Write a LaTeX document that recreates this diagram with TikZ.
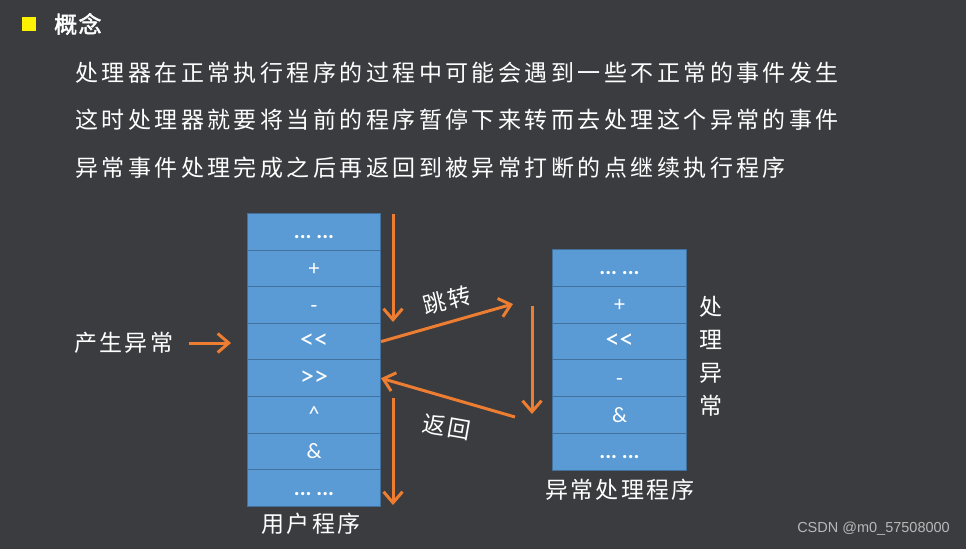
\documentclass[tikz,border=0pt]{standalone}
\usepackage{fontspec}
\newfontfamily\cjk[LetterSpace=15]{Noto Sans CJK SC}
\newfontfamily\cjklbl[LetterSpace=10]{Noto Sans CJK SC}
\newfontfamily\cjkplain{Noto Sans CJK SC}
\newfontfamily\cjkb[FakeBold=2,LetterSpace=6]{Noto Sans CJK SC}
\newfontfamily\cellfont[Ligatures=ResetAll]{Carlito}
\newfontfamily\wmfont{Liberation Sans}
\usetikzlibrary{arrows.meta}
\definecolor{bg}{HTML}{3B3C40}
\definecolor{cellblue}{HTML}{5B9BD5}
\definecolor{cellline}{HTML}{41719C}
\definecolor{arr}{HTML}{ED7D31}
\definecolor{wm}{HTML}{B8B8B8}
\tikzset{
  lcell/.style={draw=cellline,line width=1pt,fill=cellblue,minimum width=133pt,minimum height=36.6pt,anchor=north west,inner sep=0pt,text height=16pt,text depth=2pt,text=white,font=\cellfont\fontsize{22}{22}\selectfont},
  rcell/.style={lcell,minimum width=134pt,minimum height=36.8pt},
  body/.style={text=white,anchor=west,inner sep=0pt,font=\cjk\fontsize{23}{23}\selectfont},
  lbl/.style={text=white,inner sep=0pt,font=\cjklbl\fontsize{23}{23}\selectfont},
  oarrow/.style={draw=arr,line width=3pt,-{Straight Barb[length=11pt,width=19pt,line width=3pt]}},
}
\newcommand{\dd}{\textbf{...\ ...}}
\newcommand{\shl}{{\fontsize{28}{28}\selectfont <\kern0pt<}}
\newcommand{\shr}{{\fontsize{28}{28}\selectfont >\kern0pt>}}
\begin{document}
\begin{tikzpicture}[x=1pt,y=-1pt]
\fill[bg] (0,0) rectangle (966,549);
\useasboundingbox (0,0) rectangle (966,549);
% title
\node[fill=yellow,minimum size=14pt,inner sep=0pt] (sq) at (29,24) {};
\node[text=white,anchor=west,inner sep=0pt,font=\cjkb\fontsize{23}{23}\selectfont] (title) at (54,24) {概念};
\node[body] (t1) at (75,73) {处理器在正常执行程序的过程中可能会遇到一些不正常的事件发生};
\node[body] (t2) at (75,120) {这时处理器就要将当前的程序暂停下来转而去处理这个异常的事件};
\node[body] (t3) at (75,168) {异常事件处理完成之后再返回到被异常打断的点继续执行程序};
% left stack
\node[lcell] (l1) at (247,213.0) {\dd};
\node[lcell] (l2) at (247,249.6) {+};
\node[lcell] (l3) at (247,286.2) {-};
\node[lcell] (l4) at (247,322.8) {\shl};
\node[lcell] (l5) at (247,359.4) {\shr};
\node[lcell] (l6) at (247,396.0) {\textasciicircum};
\node[lcell] (l7) at (247,432.6) {\&};
\node[lcell] (l8) at (247,469.2) {\dd};
% right stack
\node[rcell] (r1) at (552,249.0) {\dd};
\node[rcell] (r2) at (552,285.8) {+};
\node[rcell] (r3) at (552,322.6) {\shl};
\node[rcell] (r4) at (552,359.4) {-};
\node[rcell] (r5) at (552,396.2) {\&};
\node[rcell] (r6) at (552,433.0) {\dd};
% labels
\node[lbl] (user) at (311,524) {用户程序};
\node[lbl] (handler) at (620,490) {异常处理程序};
\node[lbl,align=center,font=\cjkplain\fontsize{23}{33}\selectfont] (vert) at (711,356) {处\\理\\异\\常};
\node[lbl,anchor=west] (gen) at (74,343) {产生异常};
\node[lbl,rotate=14] (jump) at (447,300) {跳转};
\node[lbl,rotate=-10] (ret) at (447,427) {返回};
% arrows
\coordinate (gs) at (189,343);
\coordinate (ge) at (231,343);
\coordinate (v1s) at (393,214);
\coordinate (v1e) at (393,322);
\coordinate (v2s) at (393,398);
\coordinate (v2e) at (393,505);
\coordinate (jt) at (513,304);
\coordinate (rs) at (515,417);
\coordinate (v3s) at (532,306);
\coordinate (v3e) at (532,414);
\draw[oarrow] (gs) -- (ge);
\draw[oarrow] (v1s) -- (v1e);
\draw[oarrow] (v2s) -- (v2e);
\draw[oarrow] (l4.east) -- (jt);
\draw[oarrow] (rs) -- (l5.east);
\draw[oarrow] (v3s) -- (v3e);
% watermark
\node[text=wm,anchor=east,inner sep=0pt,font=\wmfont\fontsize{14.5}{14.5}\selectfont] (wmk) at (950,529) {CSDN @m0\_57508000};
\end{tikzpicture}
\end{document}
